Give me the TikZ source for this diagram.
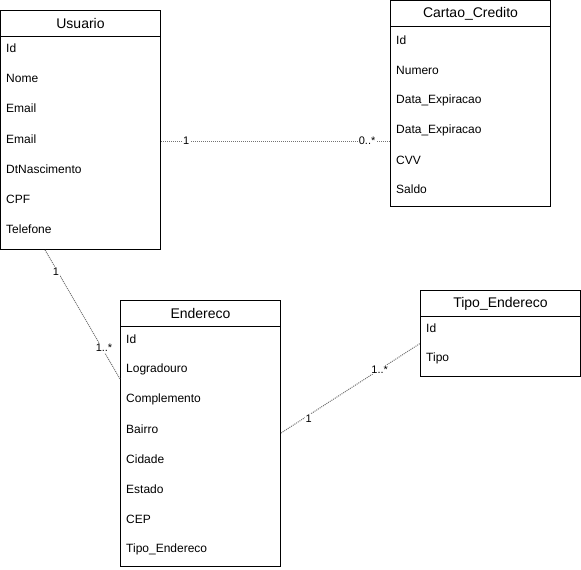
\documentclass[tikz,border=0pt]{standalone}
\usepackage{fontspec}
\setmainfont{Liberation Sans}
\usetikzlibrary{positioning,calc}

\begin{document}
\begin{tikzpicture}[
    x=1pt, y=-1pt,
    entity/.style={rectangle, draw=black, line width=1pt, minimum width=160pt, anchor=north west, inner sep=0pt},
    title/.style={rectangle, draw=black, line width=1pt, minimum width=160pt, minimum height=26pt, anchor=north, inner sep=0pt, font=\fontsize{14}{16}\selectfont},
    field/.style={anchor=west, inner sep=0pt, font=\fontsize{12}{14}\selectfont},
    relation/.style={draw=black!55, line width=1pt, dash pattern=on 1pt off 1pt},
    card/.style={fill=white, inner sep=1pt, text=black, font=\fontsize{11}{13}\selectfont}
]
\useasboundingbox (0,0) rectangle (581,570);

% Usuario
\node[entity, minimum height=239pt] (usuario) at (0,10) {};
\node[title] (usuario_title) at (usuario.north) {Usuario};
\node[field] (usuario_id) at (6,48) {Id};
\node[field] (usuario_nome) at (6,78) {Nome};
\node[field] (usuario_email) at (6,108) {Email};
\node[field] (usuario_email2) at (6,139) {Email};
\node[field] (usuario_nasc) at (6,169) {DtNascimento};
\node[field] (usuario_cpf) at (6,199) {CPF};
\node[field] (usuario_tel) at (6,229) {Telefone};

% Cartao_Credito
\node[entity, minimum height=206pt] (cartao) at (390,0) {};
\node[title] (cartao_title) at (cartao.north) {Cartao\_Credito};
\node[field] (cartao_id) at (396,40) {Id};
\node[field] (cartao_numero) at (396,70) {Numero};
\node[field] (cartao_exp) at (396,100) {Data\_Expiracao};
\node[field] (cartao_exp2) at (396,130) {Data\_Expiracao};
\node[field] (cartao_cvv) at (396,160) {CVV};
\node[field] (cartao_saldo) at (396,189) {Saldo};

% Endereco
\node[entity, minimum height=266pt] (endereco) at (120,300) {};
\node[title] (endereco_title) at (endereco.north) {Endereco};
\node[field] (endereco_id) at (126,339) {Id};
\node[field] (endereco_logradouro) at (126,369) {Logradouro};
\node[field] (endereco_compl) at (126,399) {Complemento};
\node[field] (endereco_bairro) at (126,429) {Bairro};
\node[field] (endereco_cidade) at (126,459) {Cidade};
\node[field] (endereco_estado) at (126,489) {Estado};
\node[field] (endereco_cep) at (126,519) {CEP};
\node[field] (endereco_tipo) at (126,549) {Tipo\_Endereco};

% Tipo_Endereco
\node[entity, minimum height=86pt] (tipo) at (420,290) {};
\node[title] (tipo_title) at (tipo.north) {Tipo\_Endereco};
\node[field] (tipo_id) at (426,328) {Id};
\node[field] (tipo_tipo) at (426,358) {Tipo};

% Relacionamentos
\draw[relation] ([yshift=-2pt]usuario_email2 -| usuario.east) -- node[card, pos=0.11] {1} node[card, pos=0.9] {0..*} ([yshift=-2pt]usuario_email2 -| cartao.west);
\draw[relation] ($(usuario.south west)!0.28!(usuario.south east)$) -- node[card, pos=0.17, xshift=-2pt] {1} node[card, pos=0.76, xshift=2pt] {1..*} ([yshift=-10pt]endereco_logradouro -| endereco.west);
\draw[relation] ([yshift=-4pt]endereco_bairro -| endereco.east) -- node[card, pos=0.2, yshift=-4pt] {1} node[card, pos=0.71] {1..*} ([yshift=-10pt]tipo.west);

\end{tikzpicture}
\end{document}
